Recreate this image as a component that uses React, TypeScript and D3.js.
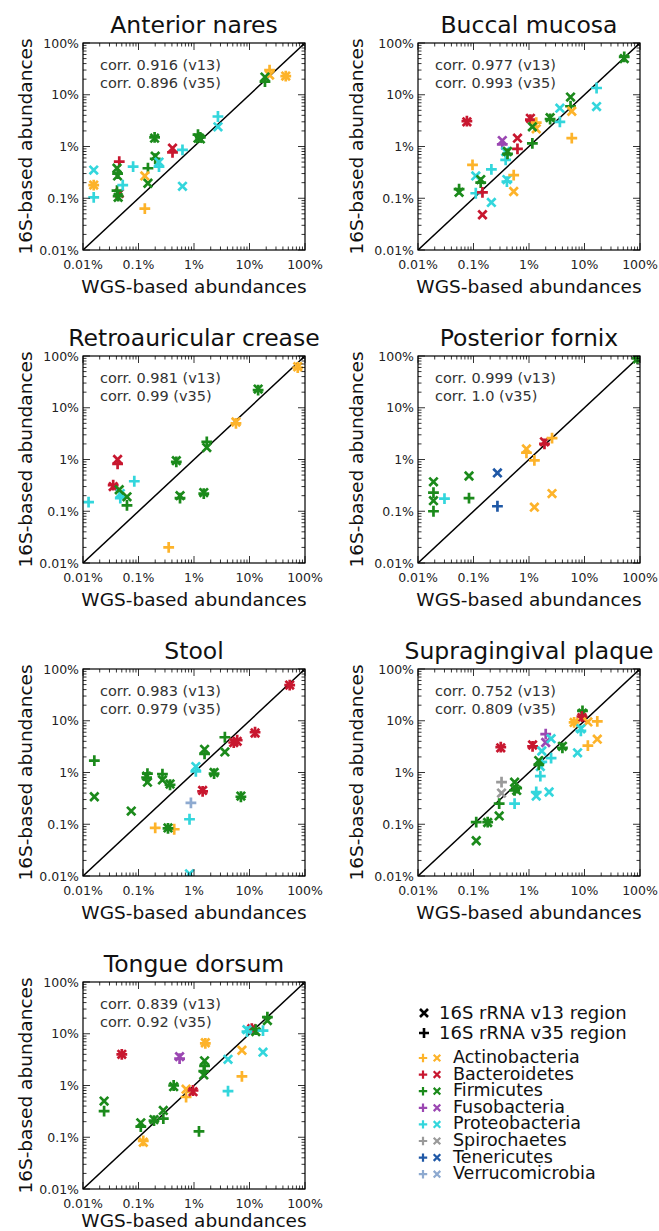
import React from 'react';
import * as d3 from 'd3';

// [phylum, WGS %, 16S v13 %, 16S v35 %]  (null = not shown)
type Row = [string, number, number | null, number | null];

const PHYLA = ['Actinobacteria', 'Bacteroidetes', 'Firmicutes', 'Fusobacteria', 'Proteobacteria', 'Spirochaetes', 'Tenericutes', 'Verrucomicrobia'];
const PHYLUM_COLORS = ['#fdb32a', '#c8172f', '#1b8a1b', '#9b47b2', '#33d6dc', '#9a9a9a', '#1f58a6', '#8eaad0'];

const SITES = ['Anterior nares', 'Buccal mucosa', 'Retroauricular crease', 'Posterior fornix', 'Stool', 'Supragingival plaque', 'Tongue dorsum'];
const CORR_V13 = ['0.916', '0.977', '0.981', '0.999', '0.983', '0.752', '0.839'];
const CORR_V35 = ['0.896', '0.993', '0.99', '1.0', '0.979', '0.809', '0.92'];

const TICK_VALUES = [0.01, 0.1, 1, 10, 100];
const TICK_LABELS = ['0.01%', '0.1%', '1%', '10%', '100%'];

const anteriorNares: Row[] = [
  ['Actinobacteria', 23, 24, 30],
  ['Actinobacteria', 45, 23, 23],
  ['Firmicutes', 19, 22, 18],
  ['Proteobacteria', 2.7, 2.4, 3.8],
  ['Firmicutes', 1.18, 1.45, 1.7],
  ['Firmicutes', 1.3, 1.4, 1.5],
  ['Bacteroidetes', 0.41, 0.93, 0.77],
  ['Proteobacteria', 0.62, 0.17, 0.86],
  ['Firmicutes', 0.195, 1.45, 1.5],
  ['Firmicutes', 0.2, 0.65, 0.58],
  ['Proteobacteria', 0.234, 0.5, 0.41],
  ['Firmicutes', 0.148, 0.195, 0.38],
  ['Actinobacteria', 0.13, 0.27, 0.063],
  ['Proteobacteria', 0.08, null, 0.41],
  ['Bacteroidetes', 0.045, 0.125, 0.51],
  ['Firmicutes', 0.041, 0.38, 0.14],
  ['Firmicutes', 0.043, 0.104, 0.11],
  ['Firmicutes', 0.042, 0.27, 0.3],
  ['Proteobacteria', 0.052, null, 0.18],
  ['Proteobacteria', 0.0156, 0.35, 0.104],
  ['Actinobacteria', 0.0156, 0.18, 0.18],
];

const buccalMucosa: Row[] = [
  ['Firmicutes', 52, 50, 54],
  ['Proteobacteria', 16.5, 5.9, 13.5],
  ['Firmicutes', 5.6, 9.0, 6.0],
  ['Actinobacteria', 5.9, 4.8, 1.45],
  ['Proteobacteria', 3.6, 5.5, 3.0],
  ['Firmicutes', 2.4, 3.6, 3.4],
  ['Bacteroidetes', 1.06, 3.5, 3.3],
  ['Actinobacteria', 1.35, 2.2, 2.9],
  ['Firmicutes', 1.15, 2.4, 1.15],
  ['Bacteroidetes', 0.62, 1.45, 0.9],
  ['Fusobacteria', 0.33, 1.3, 1.1],
  ['Bacteroidetes', 0.076, 3.0, 3.1],
  ['Proteobacteria', 0.38, 0.8, 0.55],
  ['Proteobacteria', 0.4, 0.23, 0.21],
  ['Firmicutes', 0.41, 0.8, 0.72],
  ['Actinobacteria', 0.53, 0.135, 0.28],
  ['Proteobacteria', 0.21, 0.083, 0.36],
  ['Actinobacteria', 0.096, null, 0.44],
  ['Proteobacteria', 0.11, 0.27, 0.125],
  ['Firmicutes', 0.135, 0.23, 0.2],
  ['Bacteroidetes', 0.145, 0.048, 0.13],
  ['Firmicutes', 0.055, 0.13, 0.15],
];

const retroauricularCrease: Row[] = [
  ['Actinobacteria', 74, 62, 60],
  ['Firmicutes', 14.3, 23, 22],
  ['Actinobacteria', 5.7, 5.3, 5.0],
  ['Firmicutes', 1.7, 1.7, 2.2],
  ['Firmicutes', 0.48, 0.95, 0.9],
  ['Firmicutes', 0.56, 0.2, 0.18],
  ['Firmicutes', 1.5, 0.23, 0.22],
  ['Actinobacteria', 0.35, null, 0.02],
  ['Bacteroidetes', 0.042, 1.0, 0.82],
  ['Bacteroidetes', 0.035, 0.3, 0.32],
  ['Proteobacteria', 0.084, null, 0.38],
  ['Proteobacteria', 0.047, 0.22, 0.18],
  ['Firmicutes', 0.062, 0.19, 0.13],
  ['Firmicutes', 0.045, 0.26, null],
  ['Proteobacteria', 0.0126, null, 0.15],
];

const posteriorFornix: Row[] = [
  ['Firmicutes', 90, 88, 90],
  ['Bacteroidetes', 1.9, 2.2, 2.0],
  ['Actinobacteria', 2.6, 0.22, 2.6],
  ['Actinobacteria', 0.9, 1.6, 1.35],
  ['Actinobacteria', 1.25, 0.12, 0.96],
  ['Tenericutes', 0.27, 0.55, 0.125],
  ['Firmicutes', 0.083, 0.48, 0.18],
  ['Firmicutes', 0.019, 0.37, 0.23],
  ['Firmicutes', 0.019, 0.16, 0.1],
  ['Proteobacteria', 0.03, null, 0.175],
];

const stool: Row[] = [
  ['Bacteroidetes', 53, 49, 49],
  ['Bacteroidetes', 12.6, 5.8, 6.0],
  ['Bacteroidetes', 5.2, 3.8, 3.8],
  ['Bacteroidetes', 6.0, 4.0, 4.2],
  ['Firmicutes', 3.6, 2.5, 4.8],
  ['Firmicutes', 1.55, 2.8, 2.3],
  ['Proteobacteria', 1.08, 1.3, 1.05],
  ['Firmicutes', 2.3, 1.0, 0.95],
  ['Bacteroidetes', 1.43, 0.45, 0.43],
  ['Firmicutes', 7.0, 0.35, 0.34],
  ['Verrucomicrobia', 0.88, null, 0.26],
  ['Proteobacteria', 0.83, 0.011, 0.125],
  ['Firmicutes', 0.145, 0.65, 0.95],
  ['Firmicutes', 0.14, 0.85, 0.8],
  ['Firmicutes', 0.27, 0.72, 0.93],
  ['Firmicutes', 0.37, 0.6, 0.58],
  ['Firmicutes', 0.016, 0.34, 1.7],
  ['Firmicutes', 0.074, 0.18, null],
  ['Actinobacteria', 0.2, null, 0.085],
  ['Actinobacteria', 0.44, null, 0.08],
  ['Firmicutes', 0.34, 0.085, 0.083],
];

const supragingivalPlaque: Row[] = [
  ['Firmicutes', 9.2, 14, 15.5],
  ['Bacteroidetes', 9.0, 11.5, 12],
  ['Actinobacteria', 6.5, 9.3, 9.3],
  ['Actinobacteria', 17, 4.4, 9.7],
  ['Actinobacteria', 11.5, 9.5, 3.3],
  ['Proteobacteria', 8.6, 7.0, 6.4],
  ['Proteobacteria', 7.5, 2.4, null],
  ['Firmicutes', 4.0, 3.2, 3.0],
  ['Fusobacteria', 2.0, 3.8, 5.5],
  ['Bacteroidetes', 1.16, 3.4, 3.2],
  ['Bacteroidetes', 0.31, 3.0, 3.1],
  ['Proteobacteria', 2.5, 4.5, 1.9],
  ['Proteobacteria', 1.7, 2.6, 1.6],
  ['Proteobacteria', 1.6, 1.3, 0.85],
  ['Proteobacteria', 1.35, 0.35, 0.42],
  ['Proteobacteria', 2.3, 0.42, null],
  ['Firmicutes', 1.5, 1.7, 1.4],
  ['Spirochaetes', 0.32, 0.4, 0.65],
  ['Firmicutes', 0.55, 0.65, 0.45],
  ['Firmicutes', 0.6, 0.45, 0.5],
  ['Proteobacteria', 0.55, null, 0.25],
  ['Firmicutes', 0.29, 0.145, 0.25],
  ['Firmicutes', 0.18, 0.108, 0.11],
  ['Firmicutes', 0.112, 0.048, 0.11],
];

const tongueDorsum: Row[] = [
  ['Firmicutes', 21, 18, 21],
  ['Bacteroidetes', 11, 12.5, 12.5],
  ['Firmicutes', 13, 11, 12],
  ['Proteobacteria', 17.5, 4.4, 11.5],
  ['Proteobacteria', 9, 12, 11],
  ['Actinobacteria', 7.3, 4.8, 1.5],
  ['Proteobacteria', 4.1, 3.2, 0.78],
  ['Actinobacteria', 1.6, 6.7, 6.5],
  ['Firmicutes', 1.55, 3.0, 2.4],
  ['Firmicutes', 1.5, 1.6, 1.9],
  ['Fusobacteria', 0.55, 3.6, 3.3],
  ['Bacteroidetes', 0.05, 4.0, 4.0],
  ['Firmicutes', 0.43, 0.95, 1.0],
  ['Actinobacteria', 0.72, 0.85, 0.6],
  ['Bacteroidetes', 0.96, 0.76, 0.8],
  ['Firmicutes', 1.23, null, 0.13],
  ['Firmicutes', 0.28, 0.33, 0.23],
  ['Firmicutes', 0.19, 0.22, 0.21],
  ['Firmicutes', 0.11, 0.19, 0.16],
  ['Actinobacteria', 0.122, 0.08, 0.085],
  ['Firmicutes', 0.024, 0.5, 0.32],
];

const SITE_DATA = [anteriorNares, buccalMucosa, retroauricularCrease, posteriorFornix, stool, supragingivalPlaque, tongueDorsum];

// layout
const WIDTH = 659;
const HEIGHT = 1231;
const PLOT_W = 222;
const PLOT_H = 207;
const COL_X = [83, 418];
const ROW_Y = [43, 356, 669, 982];
const FONT = '"DejaVu Sans", Verdana, sans-serif';

const color = d3.scaleOrdinal<string, string>().domain(PHYLA).range(PHYLUM_COLORS);
const xScale = d3.scaleLog().domain([0.01, 100]).range([0, PLOT_W]);
const yScale = d3.scaleLog().domain([0.01, 100]).range([PLOT_H, 0]);

// all log ticks: 1..9 x 10^e
const allTicks = d3.range(-2, 2).flatMap(e => d3.range(1, 10).map(k => ({ v: k * Math.pow(10, e), major: k === 1 })))
  .concat([{ v: 100, major: true }]);

const plus = (s: number) => `M${-s},0H${s}M0,${-s}V${s}`;
const cross = (s: number) => `M${-s},${-s}L${s},${s}M${-s},${s}L${s},${-s}`;

function Panel({ idx }: { idx: number }) {
  const left = COL_X[idx % 2];
  const top = ROW_Y[Math.floor(idx / 2)];
  const rows = SITE_DATA[idx];
  const clipId = `clip-${idx}`;
  const majorLen = 7;
  const minorLen = 3.5;
  // last row sits tight against the bottom of the page
  const xLabelY = Math.min(PLOT_H + 43, HEIGHT - 4 - top);

  return (
    <g transform={`translate(${left},${top})`}>
      <defs>
        <clipPath id={clipId}>
          <rect x={0} y={0} width={PLOT_W} height={PLOT_H} />
        </clipPath>
      </defs>
      <text x={PLOT_W / 2} y={-10} textAnchor="middle" fontSize={23.5} fill="#111">{SITES[idx]}</text>

      <g clipPath={`url(#${clipId})`}>
        <line x1={xScale(0.01)} y1={yScale(0.01)} x2={xScale(100)} y2={yScale(100)} stroke="#000" strokeWidth={1.5} />
        {rows.map((r, i) => (
          <g key={i} stroke={color(r[0])} strokeWidth={2.7} fill="none">
            {r[2] !== null && (
              <path d={cross(4.2)} transform={`translate(${xScale(r[1])},${yScale(r[2])})`} />
            )}
            {r[3] !== null && (
              <path d={plus(5.4)} transform={`translate(${xScale(r[1])},${yScale(r[3])})`} />
            )}
          </g>
        ))}
      </g>

      {/* ticks on all four sides, pointing in */}
      <g stroke="#000" strokeWidth={0.8}>
        {allTicks.map((t, i) => {
          const len = t.major ? majorLen : minorLen;
          const px = xScale(t.v);
          const py = yScale(t.v);
          return (
            <g key={i}>
              <line x1={px} x2={px} y1={PLOT_H} y2={PLOT_H - len} />
              <line x1={px} x2={px} y1={0} y2={len} />
              <line x1={0} x2={len} y1={py} y2={py} />
              <line x1={PLOT_W} x2={PLOT_W - len} y1={py} y2={py} />
            </g>
          );
        })}
      </g>
      <rect x={0} y={0} width={PLOT_W} height={PLOT_H} fill="none" stroke="#000" strokeWidth={1.2} />

      {TICK_VALUES.map((v, i) => (
        <g key={i} fontSize={12.5} fill="#222">
          <text x={xScale(v)} y={PLOT_H + 19} textAnchor="middle">{TICK_LABELS[i]}</text>
          <text x={-4} y={yScale(v)} dy="0.36em" textAnchor="end">{TICK_LABELS[i]}</text>
        </g>
      ))}

      <text x={17} y={27} fontSize={14.5} fill="#333">{`corr. ${CORR_V13[idx]} (v13)`}</text>
      <text x={17} y={45} fontSize={14.5} fill="#333">{`corr. ${CORR_V35[idx]} (v35)`}</text>

      <text x={PLOT_W / 2} y={xLabelY} textAnchor="middle" fontSize={18.5} fill="#111">WGS-based abundances</text>
      <text transform={`translate(${idx % 2 === 0 ? -51 : -55},${PLOT_H / 2}) rotate(-90)`} textAnchor="middle" fontSize={18.5} fill="#111">16S-based abundances</text>
    </g>
  );
}

function Legend() {
  const mx = 424;
  const tx = 439;
  return (
    <g>
      <path d={cross(4)} transform={`translate(${mx},${1013})`} stroke="#000" strokeWidth={2.6} />
      <text x={tx} y={1019} fontSize={18} fill="#111">16S rRNA v13 region</text>
      <path d={plus(5)} transform={`translate(${mx},${1033})`} stroke="#000" strokeWidth={2.6} />
      <text x={tx} y={1039} fontSize={18} fill="#111">16S rRNA v35 region</text>
      {PHYLA.map((p, i) => {
        const yb = 1063 + i * 16.6;
        return (
          <g key={p}>
            <path d={plus(4.2)} transform={`translate(${423},${yb - 5})`} stroke={color(p)} strokeWidth={2.2} />
            <path d={cross(3.3)} transform={`translate(${437},${yb - 5})`} stroke={color(p)} strokeWidth={2.2} />
            <text x={453} y={yb} fontSize={17.5} fill="#111">{p}</text>
          </g>
        );
      })}
    </g>
  );
}

export default function App() {
  return (
    <div style={{ position: 'absolute', left: 0, top: 0, background: '#fff' }}>
      <svg width={WIDTH} height={HEIGHT} fontFamily={FONT} style={{ display: 'block' }}>
        <rect width={WIDTH} height={HEIGHT} fill="#fff" />
        {SITES.map((s, i) => <Panel key={s} idx={i} />)}
        <Legend />
      </svg>
    </div>
  );
}
